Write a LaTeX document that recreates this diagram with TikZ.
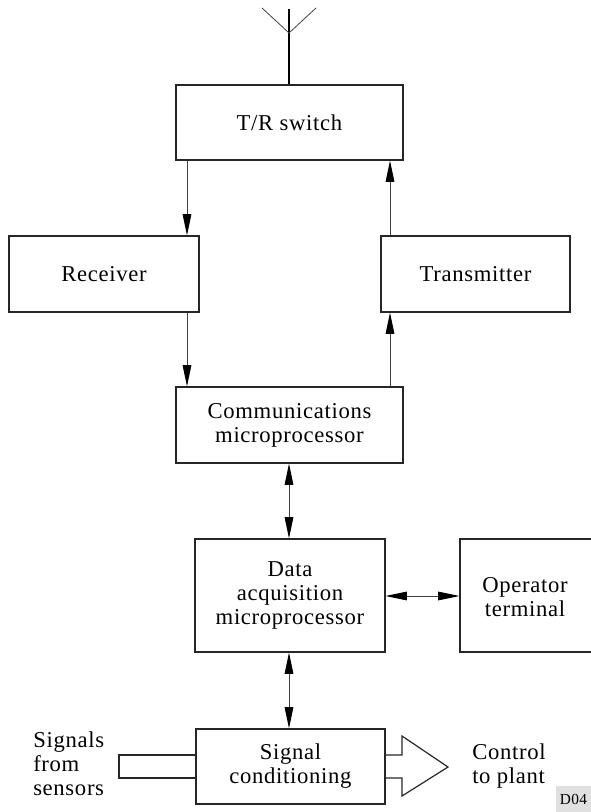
\documentclass[tikz,border=0pt]{standalone}
\usepackage{fontspec}
\setmainfont{Liberation Serif}[LetterSpace=3]
\usetikzlibrary{arrows.meta}
\begin{document}
\begin{tikzpicture}[x=0.75pt,y=-0.75pt,
  font=\fontsize{17}{18}\selectfont,
  blk/.style 2 args={draw=black!85,line width=0.9pt,fill=white,inner sep=0pt,
    align=center,minimum width=#1*0.75pt,minimum height=#2*0.75pt},
  conn/.style={draw=black!75,line width=0.6pt},
  tip/.style={-{Triangle[length=16pt,width=6.5pt,color=black]}},
  dtip/.style={{Triangle[length=16pt,width=6.5pt,color=black]}-{Triangle[length=16pt,width=6.5pt,color=black]}},
  lbl/.style={inner sep=0pt,align=left,anchor=west}]
\useasboundingbox (0,0) rectangle (591,812);
\clip (0,0) rectangle (591,812);
% blocks
\node[blk={227}{75}] (tr) at (289.5,122.5) {T/R switch};
\node[blk={190}{76}] (rx) at (104,274) {Receiver};
\node[blk={189}{76}] (tx) at (475.5,274) {Transmitter};
\node[blk={227}{76}] (comm) at (289.5,425) {Communications\\microprocessor};
\node[blk={190}{113}] (daq) at (290,595.5) {Data\\acquisition\\microprocessor};
\node[blk={150}{113}] (op) at (535,595.5) {};
\node[inner sep=0pt,align=center] (optext) at (525,597) {Operator\\terminal};
\node[blk={189}{75}] (sc) at (290.5,766.5) {Signal\\conditioning};
% helper coordinates
\coordinate (cl) at (187,0);
\coordinate (cr) at (390,0);
\coordinate (cm) at (289,0);
\coordinate (ch) at (0,596);
\coordinate (ant) at (289,9);
\coordinate (antc) at (289,33);
\coordinate (antl) at (262,8);
\coordinate (antr) at (316,8);
% antenna
\draw[line width=2pt] (tr.north -| cm) -- (ant);
\draw[conn] (antl) -- (antc) -- (antr);
% connectors
\draw[conn,tip] (tr.south -| cl) -- (rx.north -| cl);
\draw[conn,tip] (rx.south -| cl) -- (comm.north -| cl);
\draw[conn,tip] (comm.north -| cr) -- (tx.south -| cr);
\draw[conn,tip] (tx.north -| cr) -- (tr.south -| cr);
\draw[conn,dtip] (comm.south -| cm) -- (daq.north -| cm);
\draw[conn,dtip] (daq.east |- ch) -- (op.west |- ch);
\draw[conn,dtip] (daq.south -| cm) -- (sc.north -| cm);
% input pipe and output arrow
\coordinate (inA) at (119,755);
\coordinate (inB) at (119,778);
\draw[draw=black!85,line width=0.9pt] (sc.west |- inA) -- (inA) -- (inB) -- (sc.west |- inB);
\coordinate (o1) at (402,755);
\coordinate (o2) at (402,736);
\coordinate (o3) at (448,767);
\coordinate (o4) at (402,796);
\coordinate (o5) at (402,778);
\draw[draw=black!85,line width=0.9pt] (sc.east |- o1) -- (o1) -- (o2) -- (o3) -- (o4) -- (o5) -- (sc.east |- o5);
% labels
\node[lbl] (sig) at (33,764) {Signals\\from\\sensors};
\node[lbl] (ctl) at (472,766.5) {Control\\to plant};
\node[fill=black!12,inner sep=0pt,minimum width=35*0.75pt,minimum height=26*0.75pt,
  font=\fontsize{11.5}{12}\selectfont] (code) at (573.5,799) {D04};
\end{tikzpicture}
\end{document}
